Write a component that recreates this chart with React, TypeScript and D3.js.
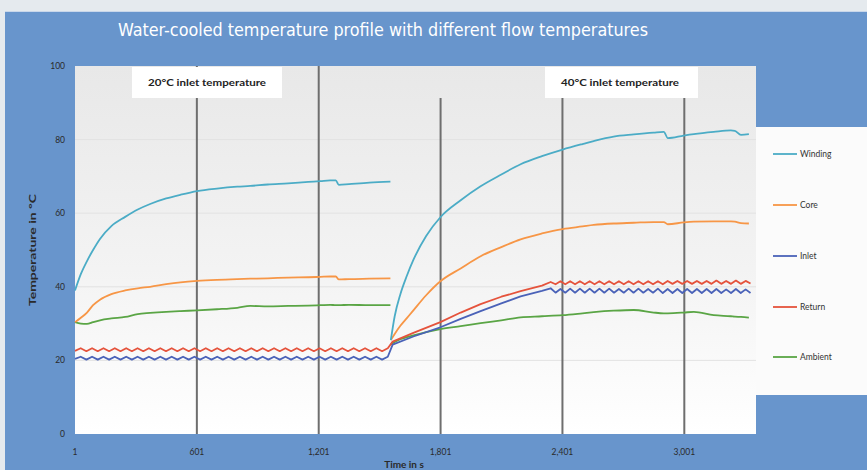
import React from "react";
import * as d3 from "d3";

// ---------- data ----------
const seriesNames = ["Winding", "Core", "Inlet", "Return", "Ambient"];
const seriesColors = ["#4bacc6", "#f79646", "#4a62b8", "#e5533c", "#5aa545"];

const xTickValues = [1, 601, 1201, 1801, 2401, 3001];
const xTickLabels = ["1", "601", "1,201", "1,801", "2,401", "3,001"];
const yTickValues = [0, 20, 40, 60, 80, 100];
const annotations = ["20°C inlet temperature", "40°C inlet temperature"];

// smooth series (null = gap between the two test runs)
const timeSmooth = [
  1, 30, 60, 90, 124, 180, 248, 310, 371, 450, 520, 602, 700, 800, 864, 950, 1050, 1150, 1209, 1258, 1285, 1300, 1350, 1450, 1554,
  1555,
  1556, 1575, 1603, 1635, 1667, 1730, 1800, 1900, 1998, 2100, 2195, 2300, 2402, 2500, 2555, 2653, 2752, 2850, 2900, 2920, 2998, 3048, 3146, 3230, 3250, 3280, 3319,
];
const winding = [
  39, 43.5, 47, 50, 53, 56.5, 59, 61, 62.5, 64, 65, 66, 66.7, 67.2, 67.4, 67.8, 68.1, 68.5, 68.7, 68.9, 68.9, 67.7, 67.9, 68.3, 68.6,
  null,
  25.5, 32, 38, 43, 47.3, 53.8, 58.9, 63.5, 67.3, 70.5, 73.3, 75.5, 77.3, 78.8, 79.6, 80.8, 81.4, 81.9, 82.1, 80.4, 81.1, 81.5, 82.1, 82.5, 82.4, 81.3, 81.5,
];
const core = [
  30.4, 31.6, 33, 35, 36.5, 38, 39, 39.6, 40, 40.7, 41.2, 41.6, 41.9, 42.1, 42.2, 42.3, 42.5, 42.6, 42.7, 42.8, 42.8, 42.0, 42.1, 42.2, 42.3,
  null,
  25.5, 27.2, 29.4, 31.5, 33.6, 37.7, 41.5, 45, 48.3, 50.8, 52.9, 54.5, 55.7, 56.4, 56.8, 57.2, 57.4, 57.6, 57.6, 57.0, 57.5, 57.7, 57.8, 57.8, 57.7, 57.3, 57.2,
];
const ambient = [
  30.4, 30.0, 29.9, 30.4, 30.9, 31.4, 31.8, 32.6, 32.9, 33.2, 33.4, 33.6, 33.9, 34.3, 34.8, 34.7, 34.8, 34.9, 35.0, 35.1, 35.0, 35.0, 35.1, 35.0, 35.0,
  null,
  24.3, 25.0, 25.8, 26.3, 26.8, 27.7, 28.5, 29.3, 30.1, 30.9, 31.7, 32.0, 32.3, 32.8, 33.1, 33.5, 33.7, 33.0, 32.8, 32.8, 33.0, 33.2, 32.3, 32.0, 31.9, 31.8, 31.6,
];

// oscillating coolant temperatures
const timeOsc = [
  1, 29, 57, 85, 113, 141, 169, 197, 225, 253, 281, 309, 337, 365, 393, 421, 449, 477, 505, 533, 561, 589, 617, 645, 673, 701, 729, 757,
  785, 813, 841, 869, 897, 925, 953, 981, 1009, 1037, 1065, 1093, 1121, 1149, 1177, 1205, 1233, 1261, 1289, 1317, 1345, 1373, 1401, 1429,
  1457, 1485, 1513, 1541,
  1565, 1667, 1800, 1900, 1998, 2100, 2195, 2300,
  2343, 2367, 2391, 2415, 2439, 2463, 2487, 2511, 2535, 2559, 2583, 2607, 2631, 2655, 2679, 2703, 2727, 2751, 2775, 2799, 2823, 2847,
  2871, 2895, 2919, 2943, 2967, 2991, 3015, 3039, 3063, 3087, 3111, 3135, 3159, 3183, 3207, 3231, 3255, 3279, 3303, 3327,
];
const inlet = [
  20.4, 21.0, 20.2, 21.0, 20.2, 21.0, 20.2, 21.0, 20.2, 21.0, 20.2, 21.0, 20.2, 21.0, 20.2, 21.0, 20.2, 21.0, 20.2, 21.0, 20.2, 21.0, 20.2, 21.0, 20.2, 21.0, 20.2, 21.0,
  20.2, 21.0, 20.2, 21.0, 20.2, 21.0, 20.2, 21.0, 20.2, 21.0, 20.2, 21.0, 20.2, 21.0, 20.2, 21.0, 20.2, 21.0, 20.2, 21.0, 20.2, 21.0, 20.2, 21.0,
  20.2, 21.0, 20.2, 21.0,
  24.3, 26.5, 29.0, 31.3, 33.4, 35.5, 37.4, 38.9,
  39.6, 38.4, 39.4, 38.4, 39.5, 38.4, 39.5, 38.4, 39.5, 38.4, 39.5, 38.4, 39.5, 38.4, 39.4, 38.4, 39.5, 38.4, 39.5, 38.4, 39.4, 38.4,
  39.5, 38.3, 39.4, 38.3, 39.4, 38.3, 39.4, 38.3, 39.4, 38.3, 39.4, 38.3, 39.4, 38.3, 39.3, 38.3, 39.4, 38.3, 39.3, 38.3,
];
const returnT = [
  22.6, 23.3, 22.5, 23.3, 22.5, 23.3, 22.5, 23.3, 22.5, 23.3, 22.5, 23.3, 22.5, 23.3, 22.5, 23.3, 22.5, 23.3, 22.5, 23.3, 22.5, 23.3, 22.5, 23.3, 22.5, 23.3, 22.5, 23.3,
  22.5, 23.3, 22.5, 23.3, 22.5, 23.3, 22.5, 23.3, 22.5, 23.3, 22.5, 23.3, 22.5, 23.3, 22.5, 23.3, 22.5, 23.3, 22.5, 23.3, 22.5, 23.3, 22.5, 23.3,
  22.5, 23.3, 22.5, 23.3,
  25.1, 27.5, 30.4, 33.0, 35.3, 37.3, 38.8, 40.3,
  41.3, 40.7, 41.5, 40.7, 41.5, 40.7, 41.5, 40.7, 41.5, 40.7, 41.5, 40.7, 41.5, 40.7, 41.5, 40.7, 41.5, 40.7, 41.5, 40.7, 41.5, 40.7,
  41.5, 40.7, 41.6, 40.8, 41.6, 40.8, 41.6, 40.8, 41.6, 40.8, 41.6, 40.8, 41.7, 40.8, 41.6, 40.8, 41.7, 40.8, 41.6, 40.9,
];

// ---------- layout ----------
const W = 867;
const H = 470;
const plotL = 75;
const plotR = 756;
const plotT = 66;
const plotB = 434;

type Pt = { t: number; v: number | null };

export default function App() {
  const x = d3.scaleLinear().domain([1, 3354]).range([plotL, plotR]);
  const y = d3.scaleLinear().domain([0, 100]).range([plotB, plotT]);

  const mk = (ts: number[], vs: (number | null)[]): Pt[] =>
    ts.map((t, i) => ({ t, v: vs[i] }));
  const smoothLine = d3
    .line<Pt>()
    .defined((d) => d.v !== null)
    .curve(d3.curveMonotoneX)
    .x((d) => x(d.t))
    .y((d) => y(d.v as number));
  const rawLine = d3
    .line<Pt>()
    .defined((d) => d.v !== null)
    .x((d) => x(d.t))
    .y((d) => y(d.v as number));

  const data = [
    mk(timeSmooth, winding),
    mk(timeSmooth, core),
    mk(timeOsc, inlet),
    mk(timeOsc, returnT),
    mk(timeSmooth, ambient),
  ];
  const isSmooth = [true, true, false, false, true];
  const drawOrder = [4, 2, 3, 1, 0];

  const fontSmall = "Lato, 'Open Sans', sans-serif";
  const legendYs = [154, 205, 256, 307, 357];
  const vlineTop = [98, 66, 66, 98, 98, 98];

  return (
    <svg
      width={W}
      height={H}
      viewBox={`0 0 ${W} ${H}`}
      style={{ position: "fixed", left: 0, top: 0 }}
    >
      <defs>
        <linearGradient id="plotbg" x1="0" y1="0" x2="0" y2="1">
          <stop offset="0" stopColor="#e8e8e8" />
          <stop offset="0.55" stopColor="#f3f3f3" />
          <stop offset="1" stopColor="#ffffff" />
        </linearGradient>
      </defs>
      <rect x={0} y={0} width={W} height={H} fill="#e5eaee" />
      <rect x={5} y={11} width={W - 5} height={H - 11} fill="#6895cc" />
      <line x1={5} y1={11.5} x2={W} y2={11.5} stroke="#c9d7ea" strokeWidth={1} />

      <text
        x={118}
        y={36}
        fill="#ffffff"
        fontFamily="'Liberation Sans Narrow', 'Arial Narrow', 'DejaVu Sans Condensed', 'Liberation Sans', sans-serif"
        fontSize={17}
        textLength={530}
        lengthAdjust="spacingAndGlyphs"
      >
        Water-cooled temperature profile with different flow temperatures
      </text>

      {/* plot area */}
      <rect x={plotL} y={plotT} width={plotR - plotL} height={plotB - plotT} fill="url(#plotbg)" />
      {yTickValues.slice(1, -1).map((v) => (
        <line key={v} x1={plotL} x2={plotR} y1={y(v)} y2={y(v)} stroke="#e2e2e2" strokeWidth={1} />
      ))}

      {/* vertical marker lines */}
      {xTickValues.slice(1).map((t, i) => (
        <line
          key={t}
          x1={x(t)}
          x2={x(t)}
          y1={vlineTop[i + 1]}
          y2={plotB}
          stroke="#6e6e6e"
          strokeWidth={2}
        />
      ))}

      {/* annotation boxes */}
      <rect x={132} y={67} width={150} height={31} fill="#ffffff" />
      <text x={207} y={86} textAnchor="middle" fontFamily={fontSmall} fontWeight="bold" fontSize={9} fill="#222" textLength={118} lengthAdjust="spacingAndGlyphs">
        {annotations[0]}
      </text>
      <rect x={545} y={67} width={153} height={31} fill="#ffffff" />
      <text x={620} y={86} textAnchor="middle" fontFamily={fontSmall} fontWeight="bold" fontSize={9} fill="#222" textLength={118} lengthAdjust="spacingAndGlyphs">
        {annotations[1]}
      </text>

      {/* series */}
      {drawOrder.map((i) => (
        <path
          key={seriesNames[i]}
          d={(isSmooth[i] ? smoothLine(data[i]) : rawLine(data[i])) || ""}
          fill="none"
          stroke={seriesColors[i]}
          strokeWidth={1.8}
          strokeLinejoin="round"
        />
      ))}

      {/* y axis */}
      {yTickValues.map((v) => (
        <text key={v} x={65} y={y(v) + 3} textAnchor="end" fontFamily={fontSmall} fontSize={8.5} fill="#2a2a2a">
          {v}
        </text>
      ))}
      <text
        transform={`translate(36,250) rotate(-90)`}
        textAnchor="middle"
        fontFamily={fontSmall}
        fontWeight="bold"
        fontSize={9.5}
        fill="#2a2a2a"
        textLength={112}
        lengthAdjust="spacingAndGlyphs"
      >
        Temperature in °C
      </text>

      {/* x axis */}
      {xTickValues.map((t, i) => (
        <text key={t} x={x(t)} y={455} textAnchor="middle" fontFamily={fontSmall} fontSize={8.5} fill="#2a2a2a">
          {xTickLabels[i]}
        </text>
      ))}
      <text x={404} y={468} textAnchor="middle" fontFamily={fontSmall} fontWeight="bold" fontSize={10} fill="#2a2a2a">
        Time in s
      </text>

      {/* legend */}
      <rect x={plotR} y={127} width={W - plotR} height={268} fill="#fbfbfb" />
      {seriesNames.map((n, i) => (
        <g key={n}>
          <line x1={773} x2={797} y1={legendYs[i]} y2={legendYs[i]} stroke={seriesColors[i]} strokeWidth={1.8} />
          <text x={800} y={legendYs[i] + 3} fontFamily={fontSmall} fontSize={8.5} fill="#333">
            {n}
          </text>
        </g>
      ))}
    </svg>
  );
}
